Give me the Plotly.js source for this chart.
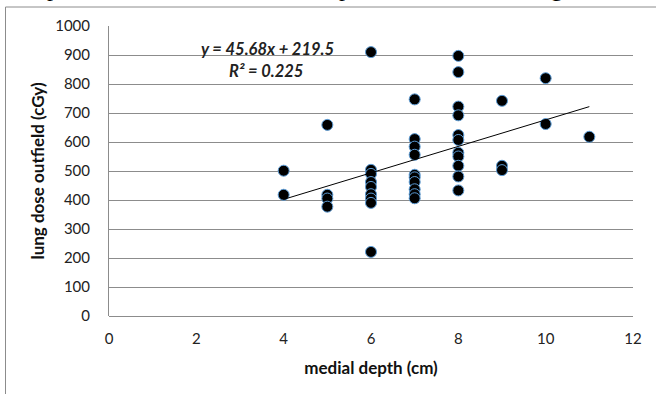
<!DOCTYPE html>
<html>
<head>
<meta charset="utf-8">
<script src="https://cdn.plot.ly/plotly-3.0.1.min.js"></script>
<style>html,body{margin:0;padding:0;background:#fff;}#chart{width:656px;height:394px;}</style>
</head>
<body>
<div id="chart"></div>
<script>
// Data
const medialDepth = [
  4, 4,
  5, 5, 5, 5,
  6, 6, 6, 6, 6, 6, 6, 6, 6,
  7, 7, 7, 7, 7, 7, 7, 7, 7, 7,
  8, 8, 8, 8, 8, 8, 8, 8, 8, 8, 8,
  9, 9, 9,
  10, 10,
  11
];
const lungDose = [
  501, 418,
  659, 418, 405, 377,
  910, 504, 490, 462, 445, 420, 405, 390, 221,
  747, 610, 584, 556, 487, 478, 462, 437, 420, 406,
  897, 841, 722, 692, 624, 607, 563, 550, 518, 481, 433,
  742, 518, 503,
  820, 662,
  618
];
const trendSlope = 45.68;
const trendIntercept = 219.5;
const trendX = [4, 11];
const trendY = trendX.map(x => trendSlope * x + trendIntercept);
const xTicks = [0, 2, 4, 6, 8, 10, 12];
const yTicks = [0, 100, 200, 300, 400, 500, 600, 700, 800, 900, 1000];

const W = 656, H = 394;
const M = {l: 109, r: 23, t: 26, b: 78};
const pw = W - M.l - M.r, ph = H - M.t - M.b;
const px = v => (v - M.l) / pw;
const py = v => (H - M.b - v) / ph;

const tickFont = {family: 'Lato, "Open Sans", sans-serif', size: 15, color: '#222'};
const titleFont = {family: 'Lato, "Open Sans", sans-serif', size: 17, color: '#111', weight: 'bold'};

const traces = [
  {
    x: medialDepth, y: lungDose, type: 'scatter', mode: 'markers',
    marker: {color: '#000', size: 11, line: {color: '#5b9bd5', width: 1}},
    hoverinfo: 'x+y', showlegend: false
  },
  {
    x: trendX, y: trendY, type: 'scatter', mode: 'lines',
    line: {color: '#000', width: 1}, hoverinfo: 'skip', showlegend: false
  }
];

const layout = {
  width: W, height: H,
  margin: M,
  paper_bgcolor: '#fff', plot_bgcolor: '#fff',
  showlegend: false,
  xaxis: {
    range: [0, 12], tickvals: xTicks, ticktext: xTicks.map(String),
    showgrid: false, zeroline: false,
    showline: false, ticks: '', tickfont: tickFont,
    ticklabelstandoff: 12,
    title: {text: '<b>medial depth (cm)</b>', font: titleFont, standoff: 16}
  },
  yaxis: {
    range: [0, 1000], tickvals: yTicks, ticktext: yTicks.map(String),
    showgrid: true, gridcolor: '#8c8c8c', gridwidth: 1,
    zeroline: true, zerolinecolor: '#8c8c8c', zerolinewidth: 1,
    showline: true, linecolor: '#8c8c8c', linewidth: 1,
    ticks: '', tickfont: tickFont, ticklabelstandoff: 15,
    title: {text: '<b>lung dose outfield (cGy)</b>', font: titleFont, standoff: 6}
  },
  annotations: [
    {xref: 'paper', yref: 'paper', x: px(267), y: py(49), xanchor: 'center', yanchor: 'middle',
     text: '<b><i>y = 45.68x + 219.5</i></b>', showarrow: false,
     font: {family: 'Lato, "Open Sans", sans-serif', size: 16.5, color: '#222'}},
    {xref: 'paper', yref: 'paper', x: px(266), y: py(71), xanchor: 'center', yanchor: 'middle',
     text: '<b><i>R² = 0.225</i></b>', showarrow: false,
     font: {family: 'Lato, "Open Sans", sans-serif', size: 16.5, color: '#222'}},
    {xref: 'paper', yref: 'paper', x: px(331), y: py(-12), xanchor: 'center', yanchor: 'middle',
     text: 'point of breast to the entrance point of the lateral tangential', showarrow: false,
     font: {family: '"Liberation Serif", serif', size: 24, color: '#000'}}
  ],
  shapes: [
    {type: 'line', xref: 'paper', yref: 'paper', x0: px(5.5), x1: px(5.5), y0: py(7), y1: py(400),
     line: {color: '#8c8c8c', width: 1}},
    {type: 'line', xref: 'paper', yref: 'paper', x0: px(5.5), x1: px(660), y0: py(7), y1: py(7),
     line: {color: '#8c8c8c', width: 1}}
  ]
};

Plotly.newPlot('chart', traces, layout, {staticPlot: true, displayModeBar: false});
</script>
</body>
</html>
